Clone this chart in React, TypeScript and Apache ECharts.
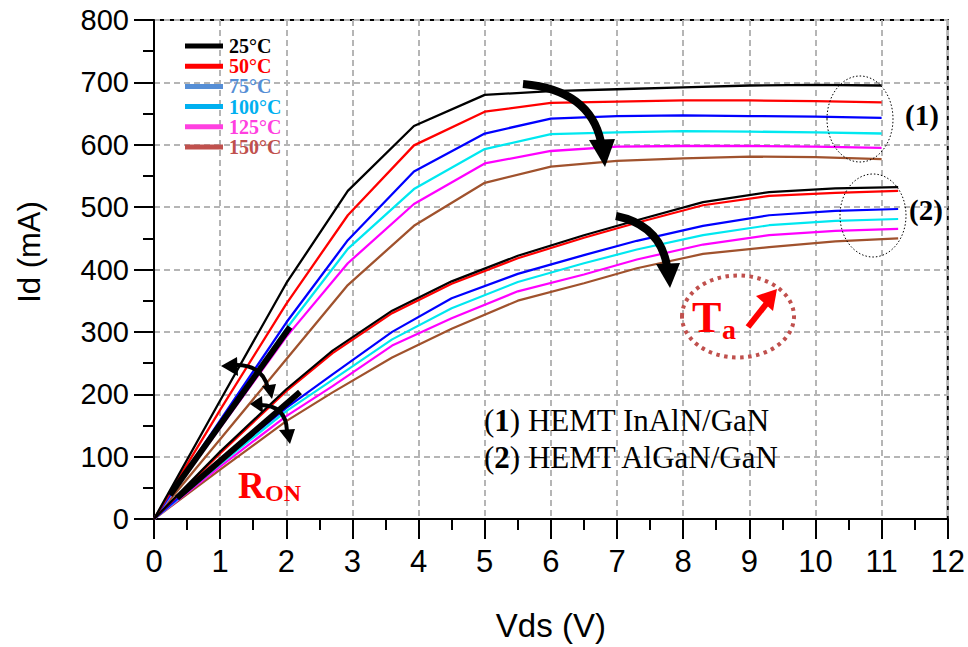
import React, { useEffect, useRef } from "react";
import * as echarts from "echarts";

// ---------- data ----------
const temperatures = ["25°C", "50°C", "75°C", "100°C", "125°C", "150°C"];
const xTicks = [0, 1, 2, 3, 4, 5, 6, 7, 8, 9, 10, 11, 12];
const yTicks = [0, 100, 200, 300, 400, 500, 600, 700, 800];

// (1) HEMT InAlN/GaN
const vdsInAlN = [0, 1, 2, 2.93, 3.93, 5, 6, 7, 8, 9, 10, 11];
const idInAlN25 = [0, 190, 378, 526, 630, 680, 686, 689, 692, 695, 696, 695];
const idInAlN50 = [0, 175, 345, 487, 599, 653, 667, 669, 671, 671, 670, 668];
const idInAlN75 = [0, 158, 315, 447, 557, 618, 642, 646, 647, 646, 645, 643];
const idInAlN100 = [0, 152, 305, 433, 529, 593, 617, 620, 622, 621, 620, 618];
const idInAlN125 = [0, 146, 292, 410, 505, 570, 590, 597, 598, 598, 597, 595];
const idInAlN150 = [0, 128, 256, 375, 470, 539, 565, 574, 578, 581, 580, 577];

// (2) HEMT AlGaN/GaN
const vdsAlGaN = [0, 1, 2, 2.7, 3.6, 4.5, 5.5, 6.5, 7.3, 8.3, 9.3, 10.3, 11.25];
const idAlGaN25 = [0, 108, 208, 270, 334, 381, 422, 455, 479, 508, 524, 530, 532];
const idAlGaN50 = [0, 105, 205, 266, 330, 377, 418, 451, 475, 503, 518, 523, 526];
const idAlGaN75 = [0, 92, 178, 232, 300, 354, 393, 423, 446, 470, 487, 494, 497];
const idAlGaN100 = [0, 88, 173, 223, 288, 338, 380, 410, 432, 455, 471, 478, 481];
const idAlGaN125 = [0, 84, 165, 213, 278, 322, 365, 392, 416, 440, 455, 462, 465];
const idAlGaN150 = [0, 79, 157, 203, 259, 305, 350, 378, 402, 425, 436, 445, 450];

const inAlNSets = [idInAlN25, idInAlN50, idInAlN75, idInAlN100, idInAlN125, idInAlN150];
const alGaNSets = [idAlGaN25, idAlGaN50, idAlGaN75, idAlGaN100, idAlGaN125, idAlGaN150];

// ---------- styles ----------
const lineColors = ["#000000", "#ff0000", "#0000ff", "#00e8f0", "#ff00ff", "#a0522d"];
const legendColors = ["#000000", "#ff0000", "#558ed5", "#00b0f0", "#ff40e0", "#c0504d"];
const SANS = '"Liberation Sans", Arial, sans-serif';
const SERIF = '"Liberation Serif", "Times New Roman", serif';

export default function App() {
  const ref = useRef<HTMLDivElement>(null);

  useEffect(() => {
    if (!ref.current) return;
    const chart = echarts.init(ref.current, undefined, { renderer: "svg" });

    const series: any[] = [];
    inAlNSets.forEach((ids, k) => {
      series.push({
        name: temperatures[k] + " (1)",
        type: "line",
        data: vdsInAlN.map((v, i) => [v, ids[i]]),
        showSymbol: false,
        lineStyle: { color: lineColors[k], width: 2.3 },
        itemStyle: { color: lineColors[k] },
        z: 10 - k,
      });
    });
    alGaNSets.forEach((ids, k) => {
      series.push({
        name: temperatures[k] + " (2)",
        type: "line",
        data: vdsAlGaN.map((v, i) => [v, ids[i]]),
        showSymbol: false,
        lineStyle: { color: lineColors[k], width: 2.2 },
        itemStyle: { color: lineColors[k] },
        z: 10 - k,
      });
    });

    const graphics: any[] = [];
    // legend
    temperatures.forEach((t, i) => {
      const y = 46 + i * 20.2;
      graphics.push({
        type: "line",
        z: 100,
        shape: { x1: 185, y1: y, x2: 223, y2: y },
        style: { stroke: legendColors[i], lineWidth: 5 },
      });
      graphics.push({
        type: "text",
        z: 100,
        x: 229,
        y: y,
        style: {
          text: t,
          fill: legendColors[i],
          fontFamily: SERIF,
          fontWeight: "bold",
          fontSize: 20,
          lineHeight: 19,
          align: "left",
          verticalAlign: "middle",
        },
      });
    });

    // y axis name
    graphics.push({
      type: "text",
      z: 100,
      x: 29,
      y: 252,
      rotation: Math.PI / 2,
      style: {
        text: "Id (mA)",
        fill: "#000",
        fontFamily: SANS,
        fontSize: 31,
        align: "center",
        verticalAlign: "middle",
      },
    });

    // R_ON thick lines
    graphics.push({
      type: "line", z: 100,
      shape: { x1: 170, y1: 495, x2: 290, y2: 327 },
      style: { stroke: "#000", lineWidth: 6 },
    });
    graphics.push({
      type: "line", z: 100,
      shape: { x1: 177, y1: 498, x2: 300, y2: 392 },
      style: { stroke: "#000", lineWidth: 6 },
    });
    // double-headed arcs
    graphics.push({
      type: "bezierCurve", z: 100,
      shape: { x1: 234, y1: 365, cpx1: 262, cpy1: 364, x2: 268, y2: 388 },
      style: { stroke: "#000", lineWidth: 4, fill: "none" },
    });
    graphics.push({
      type: "polygon", z: 100,
      shape: { points: [[221, 366], [237, 357], [238, 376]] },
      style: { fill: "#000" },
    });
    graphics.push({
      type: "polygon", z: 100,
      shape: { points: [[272, 399], [262, 386], [276, 384]] },
      style: { fill: "#000" },
    });
    graphics.push({
      type: "bezierCurve", z: 100,
      shape: { x1: 260, y1: 405, cpx1: 286, cpy1: 405, x2: 287, y2: 431 },
      style: { stroke: "#000", lineWidth: 4, fill: "none" },
    });
    graphics.push({
      type: "polygon", z: 100,
      shape: { points: [[250, 404], [262, 396], [263, 413]] },
      style: { fill: "#000" },
    });
    graphics.push({
      type: "polygon", z: 100,
      shape: { points: [[290, 444], [279, 430], [295, 429]] },
      style: { fill: "#000" },
    });
    // R_ON label
    graphics.push({
      type: "text", z: 100, x: 238, y: 485,
      style: { text: "R", fill: "#ff0000", fontFamily: SERIF, fontWeight: "bold", fontSize: 37, align: "left", verticalAlign: "middle" },
    });
    graphics.push({
      type: "text", z: 100, x: 265, y: 493,
      style: { text: "ON", fill: "#ff0000", fontFamily: SERIF, fontWeight: "bold", fontSize: 24, align: "left", verticalAlign: "middle" },
    });

    // big curved arrows
    graphics.push({
      type: "bezierCurve", z: 100,
      shape: { x1: 523, y1: 84, cpx1: 590, cpy1: 90, x2: 601, y2: 142 },
      style: { stroke: "#000", lineWidth: 8, fill: "none" },
    });
    graphics.push({
      type: "polygon", z: 100,
      shape: { points: [[589, 140], [615, 139], [605, 167]] },
      style: { fill: "#000" },
    });
    graphics.push({
      type: "bezierCurve", z: 100,
      shape: { x1: 616, y1: 216, cpx1: 660, cpy1: 225, x2: 667, y2: 266 },
      style: { stroke: "#000", lineWidth: 8, fill: "none" },
    });
    graphics.push({
      type: "polygon", z: 100,
      shape: { points: [[656, 264], [680, 263], [670, 288]] },
      style: { fill: "#000" },
    });

    // dotted ellipses
    graphics.push({
      type: "ellipse", z: 100,
      shape: { cx: 860, cy: 119, rx: 33, ry: 43 },
      style: { fill: "none", stroke: "#000", lineWidth: 1, lineDash: [1.5, 2] },
    });
    graphics.push({
      type: "ellipse", z: 100,
      shape: { cx: 873, cy: 215.5, rx: 33, ry: 41.5 },
      style: { fill: "none", stroke: "#000", lineWidth: 1, lineDash: [1.5, 2] },
    });
    graphics.push({
      type: "text", z: 100, x: 922, y: 115,
      style: { text: "(1)", fill: "#000", fontFamily: SERIF, fontWeight: "bold", fontSize: 29, align: "center", verticalAlign: "middle" },
    });
    graphics.push({
      type: "text", z: 100, x: 926, y: 210,
      style: { text: "(2)", fill: "#000", fontFamily: SERIF, fontWeight: "bold", fontSize: 29, align: "center", verticalAlign: "middle" },
    });

    // Ta annotation
    graphics.push({
      type: "ellipse", z: 100,
      shape: { cx: 738, cy: 316.5, rx: 56, ry: 41 },
      style: { fill: "none", stroke: "#c0504d", lineWidth: 4, lineDash: [3.5, 4.5] },
    });
    graphics.push({
      type: "text", z: 100, x: 692, y: 317,
      style: { text: "T", fill: "#ff0000", fontFamily: SERIF, fontWeight: "bold", fontSize: 44, align: "left", verticalAlign: "middle" },
    });
    graphics.push({
      type: "text", z: 100, x: 722, y: 329,
      style: { text: "a", fill: "#ff0000", fontFamily: SERIF, fontWeight: "bold", fontSize: 28, align: "left", verticalAlign: "middle" },
    });
    graphics.push({
      type: "line", z: 100,
      shape: { x1: 748, y1: 327, x2: 767, y2: 303 },
      style: { stroke: "#ff0000", lineWidth: 6 },
    });
    graphics.push({
      type: "polygon", z: 100,
      shape: { points: [[756, 296], [777, 289], [773, 311]] },
      style: { fill: "#ff0000" },
    });

    // device captions
    graphics.push({
      type: "text", z: 100, x: 484, y: 420,
      style: {
        text: "({b|1}) HEMT InAlN/GaN",
        fill: "#000", fontFamily: SERIF, fontSize: 31, align: "left", verticalAlign: "middle",
        rich: { b: { fontFamily: SERIF, fontSize: 31, fontWeight: "bold", fill: "#000" } },
      },
    });
    graphics.push({
      type: "text", z: 100, x: 484, y: 457,
      style: {
        text: "({b|2}) HEMT AlGaN/GaN",
        fill: "#000", fontFamily: SERIF, fontSize: 31, align: "left", verticalAlign: "middle",
        rich: { b: { fontFamily: SERIF, fontSize: 31, fontWeight: "bold", fill: "#000" } },
      },
    });

    const axisCommon = {
      axisLine: { show: true, onZero: false, lineStyle: { color: "#000", width: 2 } },
      axisTick: { show: true, inside: false, length: 20, lineStyle: { color: "#000", width: 2 } },
      minorTick: { show: true, splitNumber: 2, length: 11, lineStyle: { color: "#000", width: 2 } },
      splitLine: { show: true, lineStyle: { color: "#b5b5b5", width: 2, type: [6, 4] } },
    };

    chart.setOption({
      animation: false,
      backgroundColor: "#ffffff",
      grid: {
        left: 154, right: 20, top: 20, bottom: 125,
        show: true, borderColor: "#000", borderWidth: 2, backgroundColor: "transparent",
      },
      xAxis: {
        type: "value",
        min: xTicks[0],
        max: xTicks[xTicks.length - 1],
        interval: 1,
        name: "Vds (V)",
        nameLocation: "middle",
        nameGap: 90,
        nameTextStyle: { fontFamily: SANS, fontSize: 33, color: "#000" },
        axisLabel: { margin: 27, fontFamily: SANS, fontSize: 31, color: "#000" },
        ...axisCommon,
      },
      yAxis: {
        type: "value",
        min: yTicks[0],
        max: yTicks[yTicks.length - 1],
        interval: 100,
        axisLabel: { margin: 25, fontFamily: SANS, fontSize: 29, color: "#000" },
        ...axisCommon,
      },
      series,
      graphic: graphics,
    });

    return () => chart.dispose();
  }, []);

  return (
    <div
      ref={ref}
      style={{ position: "absolute", left: 0, top: 0, width: 968, height: 647 }}
    />
  );
}
